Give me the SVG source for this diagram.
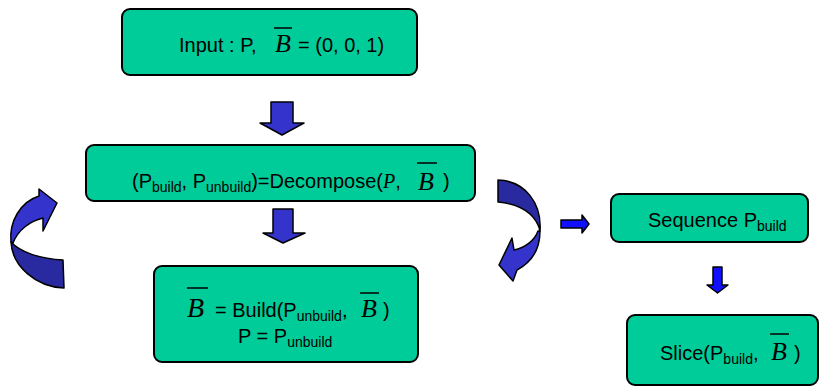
<svg xmlns="http://www.w3.org/2000/svg" width="820" height="387" viewBox="0 0 820 387">
<style>
.box{fill:#00cc99;stroke:#000;stroke-width:2}
.t{font-family:"Liberation Sans",Arial,sans-serif;font-size:20px;fill:#000}
.sub{font-size:14px}
.b{font-family:"Liberation Serif","Times New Roman",serif;font-style:italic;fill:#000}
.ov{stroke:#000;stroke-width:1.5}
.big{fill:#3434cc;stroke:#000;stroke-width:1.5;stroke-linejoin:round}
.small{fill:#1010ff;stroke:#000;stroke-width:1.5;stroke-linejoin:round}
.dark{fill:#2a2aa0;stroke:#000;stroke-width:1.5;stroke-linejoin:round}
</style>
<g id="connectors">
<path class="big" d="M271,102 H293 V123 H304 L282,135 L260,123 H271 Z"/>
<path class="big" d="M273,209 H293 V233 H305 L283,243 L263,233 H273 Z"/>
<path class="small" d="M561,220 H582 V215 L589,224 L582,233 V228 H561 Z"/>
<path class="small" d="M713,267 H722 V285 H728 L717.5,293 L707,285 H713 Z"/>
<g id="loop-left">
<path class="dark" d="M63,260 L64,288 C36,287 12,266 11,242 C20,252 40,259 63,260 Z"/>
<path class="big" d="M11,242 C9,222 20,202 39,196 L39,189 L57,203 L43,231 L43,218 C30,221 18,230 13,243 Z"/>
</g>
<g id="loop-right">
<path class="dark" d="M498,180 C525,181 542,203 540,231 C538,222 530,205 498,202 Z"/>
<path class="big" d="M538,231 C535,240 525,248 514,250 L512,238 L499,265 L513,281 L517,270 C532,262 540,250 540,231 Z"/>
</g>
</g>
<g id="input">
<rect class="box" x="122" y="9" width="295" height="66" rx="8"/>
<text class="t" x="179" y="52">Input : P,</text>
<text class="b" x="275" y="52" font-size="26">B</text>
<line class="ov" x1="274" y1="28" x2="292" y2="28"/>
<text class="t" x="298" y="52">= (0, 0, 1)</text>
</g>
<g id="decompose">
<rect class="box" x="86" y="145" width="389" height="56" rx="8"/>
<text class="t" x="132" y="188">(P<tspan class="sub" dy="4">build</tspan><tspan dy="-4">, P</tspan><tspan class="sub" dy="4">unbuild</tspan><tspan dy="-4">)=Decompose(</tspan><tspan class="b">P</tspan>,</text>
<text class="b" x="418" y="190" font-size="26">B</text>
<line class="ov" x1="417" y1="163" x2="437" y2="163"/>
<text class="t" x="443" y="188">)</text>
</g>
<g id="build">
<rect class="box" x="154" y="266" width="264" height="96" rx="8"/>
<text class="b" x="187" y="317" font-size="28">B</text>
<line class="ov" x1="187" y1="288" x2="208" y2="288"/>
<text class="t" x="215" y="317">= Build(P<tspan class="sub" dy="4">unbuild</tspan><tspan dy="-4">,</tspan></text>
<text class="b" x="361" y="317" font-size="26">B</text>
<line class="ov" x1="360" y1="293" x2="379" y2="293"/>
<text class="t" x="383" y="317">)</text>
<text class="t" x="238" y="343">P = P<tspan class="sub" dy="4">unbuild</tspan></text>
</g>
<g id="sequence">
<rect class="box" x="611" y="194" width="197" height="48" rx="8"/>
<text class="t" x="648" y="227" font-size="19">Sequence P<tspan class="sub" dy="4">build</tspan></text>
</g>
<g id="slice">
<rect class="box" x="627" y="315" width="191" height="70" rx="8"/>
<text class="t" x="660" y="360">Slice(P<tspan class="sub" dy="4">build</tspan><tspan dy="-4">,</tspan></text>
<text class="b" x="771" y="360" font-size="26">B</text>
<line class="ov" x1="770" y1="334" x2="789" y2="334"/>
<text class="t" x="794" y="360">)</text>
</g>
</svg>
